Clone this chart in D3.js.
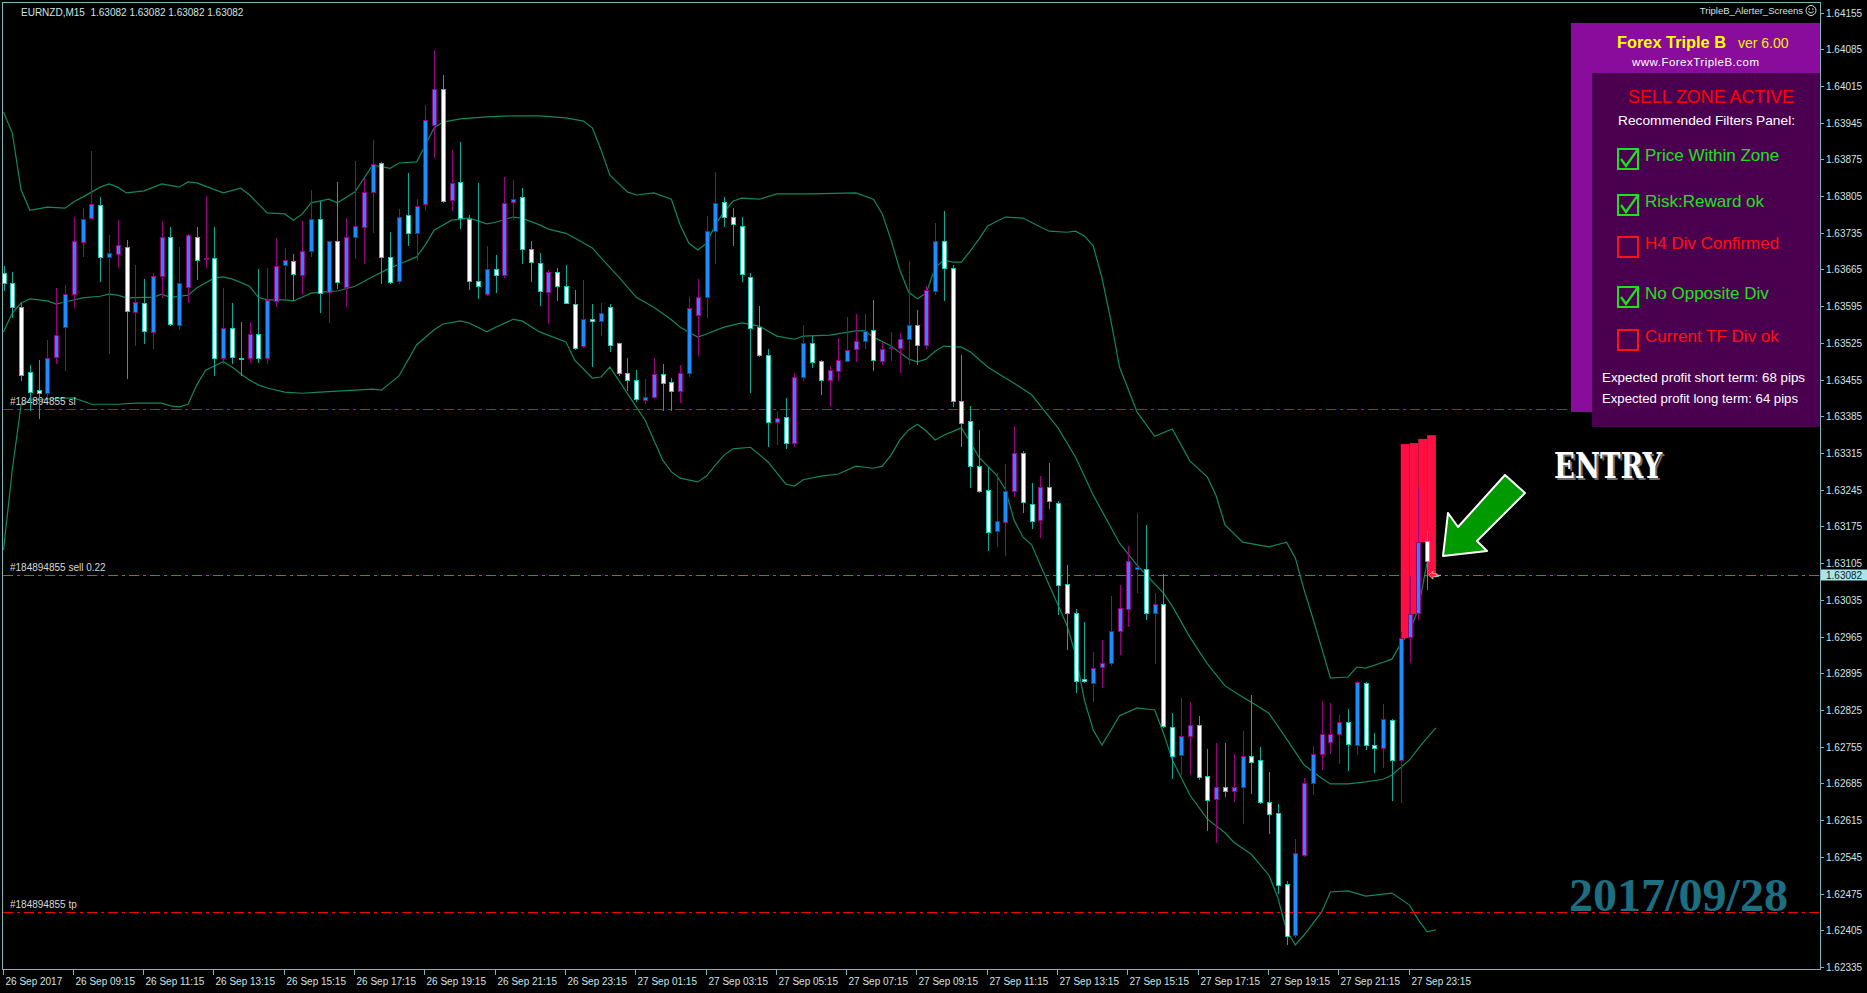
<!DOCTYPE html>
<html><head><meta charset="utf-8">
<script src="https://cdn.jsdelivr.net/npm/d3@7/dist/d3.min.js"></script>
<style>html,body{margin:0;padding:0;background:#000;overflow:hidden}</style>
</head><body>
<svg id="c" width="1867" height="993"></svg>
<script>
// ---------------- DATA ----------------
const symbolTitle = "EURNZD,M15  1.63082 1.63082 1.63082 1.63082";
const opens = [1.63658,1.63639,1.63593,1.63470,1.63435,1.63430,1.63498,1.63555,1.63618,1.63717,
1.63763,1.63788,1.63689,1.63695,1.63708,1.63584,1.63601,1.63546,1.63653,1.63727,
1.63559,1.63632,1.63727,1.63685,1.63687,1.63496,1.63553,1.63497,1.63496,1.63542,
1.63496,1.63605,1.63674,1.63681,1.63655,1.63700,1.63761,1.63622,1.63719,1.63632,
1.63727,1.63746,1.63813,1.63868,1.63689,1.63643,1.63769,1.63735,1.63790,1.63940,
1.64009,1.63798,1.63832,1.63761,1.63643,1.63618,1.63666,1.63655,1.63794,1.63803,
1.63704,1.63677,1.63622,1.63660,1.63634,1.63599,1.63519,1.63571,1.63567,1.63593,
1.63525,1.63468,1.63454,1.63416,1.63422,1.63466,1.63450,1.63433,1.63468,1.63578,
1.63612,1.63738,1.63794,1.63765,1.63748,1.63651,1.63555,1.63502,1.63374,1.63384,
1.63334,1.63460,1.63525,1.63490,1.63454,1.63471,1.63490,1.63513,1.63529,1.63550,
1.63490,1.63515,1.63515,1.63532,1.63559,1.63521,1.63624,1.63719,1.63668,1.63414,
1.63376,1.63290,1.63245,1.63166,1.63183,1.63243,1.63315,1.63218,1.63187,1.63250,
1.63220,1.63065,1.63010,1.62884,1.62876,1.62907,1.62915,1.62976,1.63017,1.63094,
1.63094,1.63010,1.63027,1.62792,1.62739,1.62775,1.62796,1.62699,1.62655,1.62678,
1.62671,1.62678,1.62737,1.62730,1.62650,1.62629,1.62493,1.62396,1.62549,1.62686,
1.62741,1.62764,1.62779,1.62802,1.62758,1.62876,1.62758,1.62753,1.62806,1.62730,
1.62964,1.63010,1.63147,1.63082];
const highs = [1.63672,1.63660,1.63601,1.63483,1.63492,1.63530,1.63630,1.63635,1.63765,1.63782,
1.63891,1.63803,1.63731,1.63759,1.63721,1.63674,1.63647,1.63658,1.63757,1.63746,
1.63708,1.63733,1.63746,1.63805,1.63746,1.63630,1.63601,1.63565,1.63565,1.63666,
1.63668,1.63725,1.63706,1.63695,1.63758,1.63817,1.63796,1.63719,1.63832,1.63763,
1.63872,1.63839,1.63912,1.63870,1.63737,1.63780,1.63849,1.63799,1.63979,1.64084,
1.64036,1.63893,1.63908,1.63769,1.63830,1.63710,1.63693,1.63841,1.63836,1.63820,
1.63719,1.63696,1.63664,1.63668,1.63674,1.63626,1.63645,1.63599,1.63601,1.63599,
1.63525,1.63496,1.63473,1.63456,1.63496,1.63485,1.63458,1.63483,1.63612,1.63647,
1.63767,1.63851,1.63803,1.63782,1.63765,1.63658,1.63595,1.63513,1.63393,1.63420,
1.63468,1.63559,1.63538,1.63492,1.63481,1.63534,1.63574,1.63580,1.63580,1.63607,
1.63527,1.63546,1.63544,1.63681,1.63588,1.63634,1.63754,1.63777,1.63674,1.63502,
1.63405,1.63359,1.63288,1.63277,1.63294,1.63367,1.63319,1.63258,1.63271,1.63296,
1.63224,1.63101,1.63017,1.62993,1.62935,1.62958,1.63042,1.63063,1.63138,1.63201,
1.63178,1.63048,1.63084,1.62819,1.62848,1.62840,1.62814,1.62751,1.62762,1.62762,
1.62741,1.62785,1.62854,1.62754,1.62707,1.62646,1.62499,1.62579,1.62695,1.62756,
1.62842,1.62838,1.62815,1.62827,1.62880,1.62878,1.62781,1.62836,1.62808,1.62974,
1.63081,1.63248,1.63166,1.63082];
const lows = [1.63626,1.63574,1.63454,1.63397,1.63382,1.63422,1.63487,1.63473,1.63593,1.63691,
1.63763,1.63643,1.63506,1.63670,1.63458,1.63521,1.63525,1.63515,1.63612,1.63559,
1.63552,1.63603,1.63647,1.63670,1.63464,1.63487,1.63487,1.63464,1.63489,1.63489,
1.63487,1.63595,1.63609,1.63607,1.63618,1.63691,1.63584,1.63565,1.63630,1.63595,
1.63687,1.63677,1.63737,1.63639,1.63639,1.63639,1.63712,1.63683,1.63778,1.63879,
1.63794,1.63778,1.63744,1.63628,1.63611,1.63616,1.63622,1.63651,1.63761,1.63677,
1.63643,1.63597,1.63563,1.63607,1.63601,1.63513,1.63517,1.63481,1.63540,1.63510,
1.63464,1.63435,1.63414,1.63410,1.63420,1.63397,1.63397,1.63412,1.63462,1.63502,
1.63574,1.63677,1.63748,1.63712,1.63643,1.63431,1.63500,1.63328,1.63332,1.63325,
1.63328,1.63454,1.63479,1.63428,1.63405,1.63454,1.63490,1.63490,1.63515,1.63473,
1.63485,1.63492,1.63470,1.63485,1.63485,1.63515,1.63618,1.63607,1.63405,1.63328,
1.63250,1.63241,1.63130,1.63138,1.63121,1.63233,1.63203,1.63172,1.63155,1.63210,
1.63008,1.62941,1.62859,1.62878,1.62842,1.62869,1.62911,1.62932,1.62985,1.63050,
1.62998,1.62915,1.62792,1.62695,1.62703,1.62703,1.62693,1.62596,1.62573,1.62661,
1.62651,1.62609,1.62667,1.62648,1.62590,1.62476,1.62379,1.62392,1.62547,1.62665,
1.62712,1.62743,1.62724,1.62711,1.62741,1.62751,1.62707,1.62716,1.62653,1.62650,
1.62916,1.62998,1.63056,1.63082];
const closes = [1.63639,1.63593,1.63464,1.63431,1.63430,1.63496,1.63540,1.63618,1.63719,1.63761,
1.63790,1.63689,1.63696,1.63712,1.63586,1.63603,1.63548,1.63653,1.63727,1.63561,
1.63639,1.63731,1.63683,1.63686,1.63496,1.63553,1.63498,1.63496,1.63542,1.63496,
1.63607,1.63672,1.63683,1.63656,1.63700,1.63761,1.63620,1.63719,1.63641,1.63727,
1.63748,1.63813,1.63866,1.63689,1.63641,1.63765,1.63735,1.63786,1.63950,1.64009,
1.63796,1.63830,1.63763,1.63643,1.63634,1.63666,1.63655,1.63792,1.63799,1.63704,
1.63679,1.63624,1.63660,1.63634,1.63601,1.63515,1.63571,1.63567,1.63582,1.63521,
1.63468,1.63454,1.63418,1.63422,1.63466,1.63448,1.63433,1.63468,1.63591,1.63612,
1.63738,1.63792,1.63765,1.63752,1.63656,1.63553,1.63502,1.63374,1.63382,1.63334,
1.63460,1.63525,1.63489,1.63454,1.63473,1.63492,1.63511,1.63529,1.63548,1.63492,
1.63513,1.63517,1.63532,1.63559,1.63521,1.63626,1.63719,1.63668,1.63414,1.63372,
1.63290,1.63243,1.63164,1.63185,1.63243,1.63315,1.63222,1.63185,1.63250,1.63223,
1.63063,1.63010,1.62880,1.62880,1.62905,1.62915,1.62976,1.63019,1.63109,1.63098,
1.63010,1.63027,1.62794,1.62737,1.62775,1.62796,1.62697,1.62653,1.62678,1.62671,
1.62678,1.62737,1.62726,1.62650,1.62627,1.62491,1.62394,1.62552,1.62686,1.62741,
1.62779,1.62779,1.62802,1.62760,1.62878,1.62758,1.62753,1.62808,1.62730,1.62962,
1.63008,1.63145,1.63109,1.63082];

// Bollinger bands: [bar index, price]
const upperBand = [[0,1.63965],[1,1.63925],[2,1.63817],[3,1.63778],[5,1.63784],[7,1.63782],[8,1.63794],[9,1.63803],[11,1.63822],[12,1.63828],[13,1.63822],[14,1.63811],[16,1.63815],[18,1.63828],[20,1.63822],[21,1.63832],[22,1.63830],[25,1.63811],[27,1.63820],[28,1.63807],[30,1.63773],[32,1.63771],[33,1.63759],[34,1.63771],[35,1.63792],[37,1.63799],[38,1.63792],[40,1.63813],[42,1.63864],[44,1.63858],[45,1.63868],[47,1.63870],[48,1.63902],[49,1.63935],[50,1.63946],[52,1.63952],[55,1.63956],[58,1.63958],[61,1.63958],[64,1.63954],[66,1.63948],[67,1.63935],[68,1.63893],[69,1.63845],[71,1.63813],[72,1.63807],[74,1.63811],[76,1.63799],[77,1.63750],[78,1.63715],[79,1.63702],[80,1.63715],[81,1.63750],[82,1.63775],[83,1.63795],[84,1.63801],[86,1.63799],[88,1.63809],[92,1.63809],[97,1.63811],[99,1.63799],[100,1.63771],[101,1.63721],[102,1.63664],[103,1.63622],[104,1.63609],[105,1.63620],[106,1.63668],[107,1.63683],[108,1.63679],[109,1.63679],[110,1.63700],[111,1.63723],[112,1.63748],[114,1.63765],[116,1.63763],[118,1.63746],[119,1.63738],[121,1.63736],[122,1.63738],[123,1.63729],[124,1.63710],[125,1.63649],[126,1.63569],[127,1.63479],[129,1.63393],[131,1.63347],[133,1.63361],[135,1.63300],[137,1.63269],[138,1.63233],[139,1.63178],[141,1.63145],[144,1.63136],[146,1.63145],[147,1.63115],[148,1.63054],[149,1.63000],[150,1.62943],[151,1.62886],[153,1.62888],[154,1.62907],[155,1.62905],[157,1.62916],[158,1.62922],[159,1.62951],[160,1.62974],[161,1.63018],[162,1.63107],[163,1.63178]];
const middleBand = [[0,1.63546],[1,1.63582],[2,1.63601],[3,1.63609],[5,1.63605],[6,1.63599],[7,1.63603],[9,1.63611],[11,1.63614],[12,1.63618],[13,1.63616],[14,1.63611],[16,1.63612],[17,1.63612],[18,1.63618],[19,1.63612],[21,1.63616],[22,1.63630],[24,1.63649],[25,1.63651],[26,1.63647],[28,1.63633],[29,1.63612],[30,1.63607],[32,1.63607],[33,1.63605],[35,1.63620],[36,1.63622],[38,1.63624],[40,1.63633],[42,1.63651],[44,1.63668],[45,1.63675],[47,1.63689],[48,1.63712],[49,1.63740],[51,1.63759],[53,1.63763],[55,1.63752],[56,1.63755],[58,1.63765],[59,1.63763],[61,1.63750],[62,1.63742],[64,1.63734],[65,1.63725],[67,1.63706],[68,1.63687],[70,1.63651],[72,1.63612],[74,1.63593],[76,1.63569],[77,1.63555],[79,1.63536],[80,1.63542],[82,1.63555],[84,1.63563],[86,1.63557],[88,1.63538],[90,1.63532],[91,1.63538],[94,1.63540],[97,1.63548],[98,1.63548],[99,1.63536],[101,1.63519],[103,1.63494],[104,1.63489],[105,1.63494],[106,1.63509],[107,1.63519],[109,1.63517],[110,1.63508],[112,1.63479],[114,1.63458],[115,1.63448],[117,1.63426],[118,1.63405],[120,1.63363],[122,1.63307],[124,1.63235],[127,1.63143],[129,1.63101],[132,1.63048],[133,1.63023],[135,1.62964],[137,1.62913],[139,1.62871],[141,1.62850],[142,1.62840],[144,1.62819],[146,1.62770],[148,1.62720],[150,1.62695],[151,1.62684],[153,1.62684],[155,1.62688],[157,1.62693],[158,1.62701],[160,1.62730],[161,1.62752],[162,1.62772],[163,1.62791]];
const lowerBand = [[0,1.63130],[1,1.63283],[2,1.63407],[3,1.63416],[5,1.63418],[8,1.63420],[10,1.63408],[13,1.63408],[15,1.63410],[18,1.63410],[19,1.63405],[20,1.63403],[21,1.63408],[22,1.63445],[23,1.63473],[24,1.63481],[25,1.63489],[26,1.63479],[27,1.63466],[28,1.63454],[29,1.63445],[30,1.63439],[32,1.63431],[34,1.63429],[36,1.63431],[38,1.63433],[40,1.63435],[42,1.63437],[43,1.63435],[45,1.63462],[47,1.63521],[49,1.63550],[50,1.63561],[52,1.63567],[53,1.63563],[55,1.63546],[56,1.63555],[58,1.63570],[59,1.63567],[61,1.63546],[64,1.63527],[65,1.63492],[67,1.63458],[68,1.63460],[69,1.63479],[70,1.63454],[72,1.63403],[73,1.63378],[74,1.63340],[75,1.63302],[76,1.63279],[77,1.63267],[79,1.63260],[80,1.63271],[81,1.63292],[82,1.63311],[83,1.63323],[85,1.63326],[87,1.63298],[89,1.63256],[90,1.63252],[91,1.63264],[93,1.63271],[95,1.63275],[97,1.63290],[99,1.63286],[100,1.63290],[101,1.63311],[102,1.63340],[103,1.63359],[104,1.63370],[105,1.63357],[106,1.63340],[107,1.63349],[109,1.63363],[110,1.63336],[111,1.63307],[113,1.63273],[114,1.63246],[115,1.63187],[116,1.63155],[117,1.63140],[118,1.63101],[119,1.63063],[120,1.63025],[121,1.62987],[122,1.62930],[123,1.62844],[124,1.62787],[125,1.62758],[127,1.62814],[129,1.62829],[131,1.62825],[132,1.62781],[133,1.62730],[135,1.62663],[137,1.62617],[139,1.62591],[140,1.62573],[142,1.62550],[144,1.62510],[145,1.62468],[146,1.62405],[147,1.62377],[148,1.62396],[150,1.62440],[151,1.62478],[153,1.62480],[155,1.62470],[156,1.62472],[158,1.62476],[160,1.62453],[161,1.62425],[162,1.62402],[163,1.62406]];

// Sell-zone histogram (segments starting at these bars)
const zoneBars = [159,160,161,162];
const zoneTop = [1.63332,1.63334,1.63342,1.63349];
const zoneBottom = [1.62962,1.63008,1.63145,1.63082];

// Order lines
const orderLines = [
  {label:"#184894855 sl", price:1.63399, color:"#ff0000"},
  {label:"#184894855 sell 0.22", price:1.63082, color:"#00b400"},
  {label:"#184894855 tp", price:1.62440, color:"#ff0000"}
];
const currentPrice = 1.63082;

// Axes
const yTickLabels = ["1.64155","1.64085","1.64015","1.63945","1.63875","1.63805","1.63735","1.63665","1.63595","1.63525","1.63455","1.63385","1.63315","1.63245","1.63175","1.63105","1.63035","1.62965","1.62895","1.62825","1.62755","1.62685","1.62615","1.62545","1.62475","1.62405","1.62335"];
const xTickBars = [0,8,16,24,32,40,48,56,64,72,80,88,96,104,112,120,128,136,144,152,160];
const xTickLabels = ["26 Sep 2017","26 Sep 09:15","26 Sep 11:15","26 Sep 13:15","26 Sep 15:15","26 Sep 17:15","26 Sep 19:15","26 Sep 21:15","26 Sep 23:15","27 Sep 01:15","27 Sep 03:15","27 Sep 05:15","27 Sep 07:15","27 Sep 09:15","27 Sep 11:15","27 Sep 13:15","27 Sep 15:15","27 Sep 17:15","27 Sep 19:15","27 Sep 21:15","27 Sep 23:15"];

// Panel texts
const panelTitle = "Forex Triple B";
const panelVersion = "ver 6.00";
const panelUrl = "www.ForexTripleB.com";
const panelStatus = "SELL ZONE ACTIVE";
const panelSubtitle = "Recommended Filters Panel:";
const filterNames = ["Price Within Zone","Risk:Reward ok","H4 Div Confirmed","No Opposite Div","Current TF Div ok"];
const filterPassed = [true,true,false,true,false];
const profitLines = ["Expected profit short term: 68 pips","Expected profit long term: 64 pips"];
const dateStamp = "2017/09/28";
const entryText = "ENTRY";
const alerterTitle = "TripleB_Alerter_Screens";

// ---------------- DRAW ----------------
const W = 1867, H = 993;
const plotL = 3, plotR = 1820, plotT = 3, plotB = 969;
const svg = d3.select("#c");
const FONT = "'Liberation Sans', Arial, sans-serif";
const AXC = "#cfe4e6";
const FRAME = "#7fb6ba";

svg.append("rect").attr("width", W).attr("height", H).attr("fill", "#000");

const x = d3.scaleLinear().domain([0, 163]).range([3.5, 1435.9]);
const y = d3.scaleLinear().domain([1.62335, 1.64155]).range([967, 12.5]);

const defs = svg.append("defs");
defs.append("clipPath").attr("id", "plotclip").append("rect")
  .attr("x", plotL).attr("y", plotT).attr("width", plotR - plotL).attr("height", plotB - plotT);

const plot = svg.append("g").attr("clip-path", "url(#plotclip)");

// Bands
const line = d3.line().x(d => x(d[0])).y(d => y(d[1]));
[upperBand, middleBand, lowerBand].forEach(b => {
  plot.append("path").attr("d", line(b)).attr("fill", "none")
    .attr("stroke", "#14885b").attr("stroke-width", 1.2);
});

// Order lines
orderLines.forEach(o => {
  const yy = Math.round(y(o.price)) + 0.5;
  plot.append("line").attr("x1", plotL).attr("x2", plotR).attr("y1", yy).attr("y2", yy)
    .attr("stroke", o.color).attr("stroke-width", 1).attr("stroke-dasharray", "10,4,3,4");
  plot.append("text").attr("x", 10).attr("y", yy - 5).text(o.label)
    .attr("font-family", FONT).attr("font-size", 10).attr("fill", "#d8d8d8");
});

// Sell zone
zoneBars.forEach((b, k) => {
  const x0 = x(b), x1 = x(b + 1);
  const y0 = y(zoneTop[k]), y1 = y(zoneBottom[k]);
  plot.append("rect").attr("x", x0).attr("y", y0).attr("width", x1 - x0).attr("height", y1 - y0)
    .attr("fill", "#ff1044");
});

// Candles
const BULL_FILL = "#1e8cff", BULL_LINE = "#98007e", BULL_WICK = "#98007e";
const BEAR_FILL = "#ffffff", BEAR_LINE = "#12cdb8", BEAR_WICK = "#10a896";
const cg = plot.append("g");
opens.forEach((o, i) => {
  const c = closes[i], h = highs[i], l = lows[i];
  const bull = c > o;
  const cx = Math.round(x(i));
  cg.append("line").attr("x1", cx + 0.5).attr("x2", cx + 0.5)
    .attr("y1", Math.round(y(h))).attr("y2", Math.round(y(l)) + 1)
    .attr("stroke", bull ? BULL_WICK : BEAR_WICK).attr("stroke-width", 1);
  const top = Math.round(y(Math.max(o, c)));
  const bot = Math.round(y(Math.min(o, c)));
  const hgt = Math.max(bot - top, 1) + 1;
  cg.append("rect").attr("x", cx - 2).attr("y", top).attr("width", 5).attr("height", hgt)
    .attr("fill", bull ? BULL_LINE : BEAR_LINE);
  if (hgt > 2) {
    cg.append("rect").attr("x", cx - 1).attr("y", top + 1).attr("width", 3).attr("height", hgt - 2)
      .attr("fill", bull ? BULL_FILL : BEAR_FILL);
  }
});

// current bar marker (sell arrow)
{
  const mx = x(163) - 3, my = y(currentPrice);
  plot.append("path")
    .attr("d", `M${mx - 4},${my} L${mx},${my - 4} L${mx},${my - 1.5} L${mx + 4},${my - 1.5} L${mx + 4},${my + 1.5} L${mx},${my + 1.5} L${mx},${my + 4} Z`)
    .attr("fill", "#ff2020").attr("stroke", "#ffffff").attr("stroke-width", 0.6);
  plot.append("line").attr("x1", mx + 4).attr("x2", mx + 8).attr("y1", my).attr("y2", my)
    .attr("stroke", "#9fd8e0").attr("stroke-width", 1);
}

// Frame & axes
svg.append("line").attr("x1", 2.5).attr("x2", 2.5).attr("y1", 2).attr("y2", 970).attr("stroke", FRAME);
svg.append("line").attr("x1", 2).attr("x2", 1821).attr("y1", 2.5).attr("y2", 2.5).attr("stroke", FRAME);
svg.append("line").attr("x1", 1820.5).attr("x2", 1820.5).attr("y1", 2).attr("y2", 970).attr("stroke", FRAME);
svg.append("line").attr("x1", 2).attr("x2", 1821).attr("y1", 969.5).attr("y2", 969.5).attr("stroke", FRAME);

// Y axis ticks
yTickLabels.forEach(t => {
  const yy = Math.round(y(+t)) + 0.5;
  svg.append("line").attr("x1", 1821).attr("x2", 1824).attr("y1", yy).attr("y2", yy).attr("stroke", FRAME);
  svg.append("text").attr("x", 1826).attr("y", yy).attr("dy", "0.35em").text(t)
    .attr("font-family", FONT).attr("font-size", 10).attr("fill", AXC);
});
// current price box
{
  const yy = Math.round(y(currentPrice));
  svg.append("rect").attr("x", 1821).attr("y", yy - 5.5).attr("width", 46).attr("height", 11).attr("fill", "#a9e4ec");
  svg.append("text").attr("x", 1826).attr("y", yy).attr("dy", "0.35em").text(currentPrice.toFixed(5))
    .attr("font-family", FONT).attr("font-size", 10).attr("fill", "#0a1e22");
}
// X axis ticks
xTickBars.forEach((b, k) => {
  const xx = Math.round(x(b)) - 0.5;
  svg.append("line").attr("x1", xx).attr("x2", xx).attr("y1", 970).attr("y2", 975).attr("stroke", FRAME);
  svg.append("text").attr("x", xx + 2).attr("y", 985).text(xTickLabels[k])
    .attr("font-family", FONT).attr("font-size", 10).attr("fill", AXC);
});

// Title
svg.append("text").attr("x", 21).attr("y", 16).text(symbolTitle).attr("xml:space", "preserve")
  .style("white-space", "pre")
  .attr("font-family", FONT).attr("font-size", 10).attr("fill", AXC);
svg.append("text").attr("x", 1803).attr("y", 14).attr("text-anchor", "end").text(alerterTitle)
  .attr("font-family", FONT).attr("font-size", 9.5).attr("fill", AXC);
svg.append("circle").attr("cx", 1811).attr("cy", 10.5).attr("r", 5).attr("fill", "none").attr("stroke", AXC);
svg.append("circle").attr("cx", 1809.2).attr("cy", 9).attr("r", 0.8).attr("fill", AXC);
svg.append("circle").attr("cx", 1812.8).attr("cy", 9).attr("r", 0.8).attr("fill", AXC);
svg.append("path").attr("d", "M1808.3,11.6 Q1811,14.5 1813.7,11.6").attr("fill", "none").attr("stroke", AXC);

// Panel
const pg = svg.append("g");
pg.append("rect").attr("x", 1571).attr("y", 23).attr("width", 249).attr("height", 389).attr("fill", "#8a0c9c");
pg.append("rect").attr("x", 1592).attr("y", 73).attr("width", 228).attr("height", 354).attr("fill", "#4b004f");
pg.append("text").attr("x", 1617).attr("y", 48).text(panelTitle)
  .attr("font-family", FONT).attr("font-weight", "bold").attr("font-size", 16).attr("fill", "#ffff00")
  .attr("textLength", 109).attr("lengthAdjust", "spacingAndGlyphs");
pg.append("text").attr("x", 1738).attr("y", 48).text(panelVersion)
  .attr("font-family", FONT).attr("font-size", 14).attr("fill", "#f0f000");
pg.append("text").attr("x", 1632).attr("y", 66).text(panelUrl)
  .attr("font-family", FONT).attr("font-size", 11.5).attr("fill", "#ffffff")
  .attr("textLength", 127).attr("lengthAdjust", "spacing");
pg.append("text").attr("x", 1628).attr("y", 103).text(panelStatus)
  .attr("font-family", FONT).attr("font-size", 18).attr("fill", "#ff0000")
  .attr("textLength", 166).attr("lengthAdjust", "spacingAndGlyphs");
pg.append("text").attr("x", 1618).attr("y", 125).text(panelSubtitle)
  .attr("font-family", FONT).attr("font-size", 13.5).attr("fill", "#ffffff")
  .attr("textLength", 177).attr("lengthAdjust", "spacingAndGlyphs");
const boxY = [149, 195, 237, 287, 330];
filterNames.forEach((n, k) => {
  const col = filterPassed[k] ? "#1fe01f" : "#ff1010";
  const by = boxY[k];
  pg.append("rect").attr("x", 1618).attr("y", by).attr("width", 20).attr("height", 20)
    .attr("fill", "none").attr("stroke", col).attr("stroke-width", 2);
  if (filterPassed[k]) {
    pg.append("path").attr("d", `M${1621},${by + 10} L${1626},${by + 17} L${1638},${by}`)
      .attr("fill", "none").attr("stroke", col).attr("stroke-width", 2.2);
  }
  pg.append("text").attr("x", 1645).attr("y", by + 12).text(n)
    .attr("font-family", FONT).attr("font-size", 17).attr("fill", col);
});
profitLines.forEach((t, k) => {
  pg.append("text").attr("x", 1602).attr("y", 382 + k * 21).text(t)
    .attr("font-family", FONT).attr("font-size", 13).attr("fill", "#ffffff")
    .attr("textLength", k === 0 ? 203 : 196).attr("lengthAdjust", "spacingAndGlyphs");
});

// Entry annotation
svg.append("text").attr("x", 1556).attr("y", 480).text(entryText)
  .attr("font-family", "'DejaVu Serif', serif").attr("font-weight", "bold").attr("font-size", 36)
  .attr("fill", "#6a6a6a").attr("textLength", 108).attr("lengthAdjust", "spacingAndGlyphs");
svg.append("text").attr("x", 1554).attr("y", 478).text(entryText)
  .attr("font-family", "'DejaVu Serif', serif").attr("font-weight", "bold").attr("font-size", 36)
  .attr("fill", "#ffffff").attr("textLength", 108).attr("lengthAdjust", "spacingAndGlyphs");
svg.append("path")
  .attr("d", "M1443,556 L1448,513 L1458,527 L1505,475 L1525,493 L1477,541 L1487,551 Z")
  .attr("fill", "#009a00").attr("stroke", "#ffffff").attr("stroke-width", 2).attr("stroke-linejoin", "round");

// Date stamp
svg.append("text").attr("x", 1569).attr("y", 911).text(dateStamp)
  .attr("font-family", "'Liberation Serif', serif").attr("font-weight", "bold").attr("font-size", 46)
  .attr("fill", "#1d6e80").attr("textLength", 219).attr("lengthAdjust", "spacingAndGlyphs");
</script>
</body></html>
